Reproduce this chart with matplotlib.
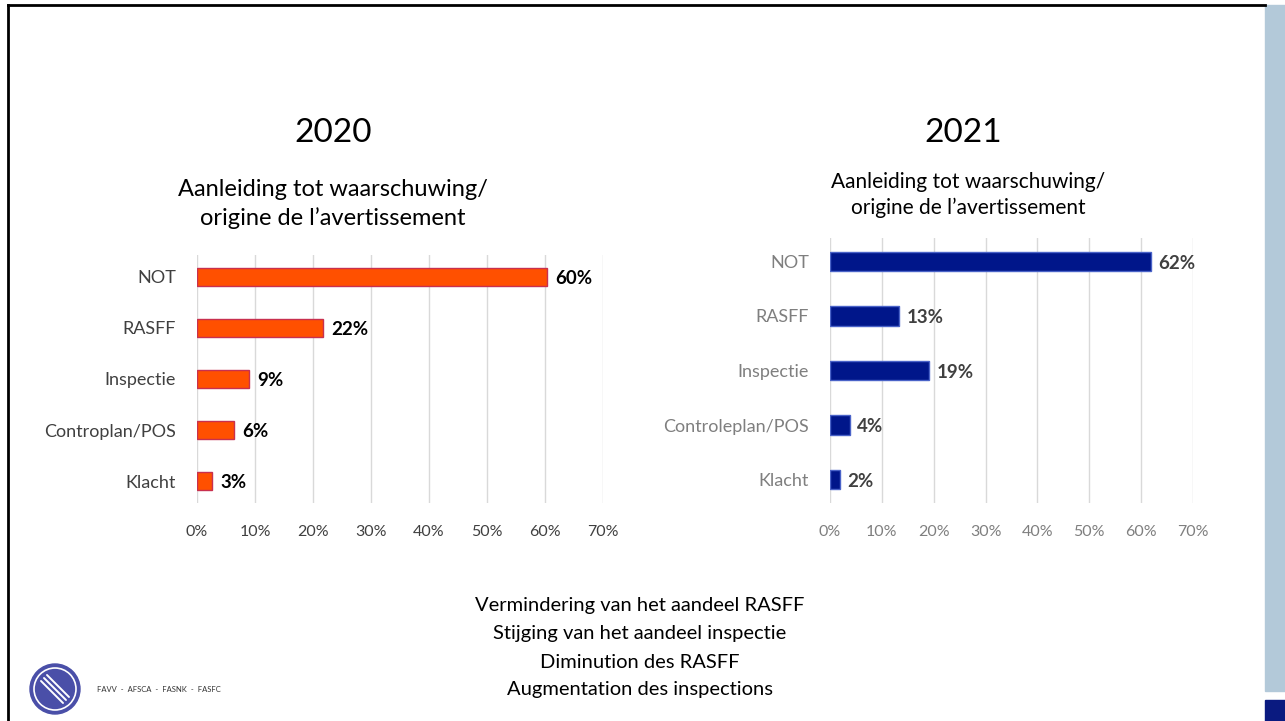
import matplotlib
matplotlib.use("Agg")
import matplotlib.pyplot as plt
from matplotlib.patches import Rectangle, Circle
from matplotlib.ticker import MultipleLocator, PercentFormatter

plt.rcParams['font.family'] = ['Lato', 'DejaVu Sans']

# --- data ---
categories_2020 = ["NOT", "RASFF", "Inspectie", "Controplan/POS", "Klacht"]
categories_2021 = ["NOT", "RASFF", "Inspectie", "Controleplan/POS", "Klacht"]
share_2020 = [60.3, 21.8, 9.0, 6.4, 2.6]
share_2021 = [61.9, 13.4, 19.1, 3.8, 1.9]

subtitle = "Aanleiding tot waarschuwing/\norigine de l\u2019avertissement"
footer = ["Vermindering van het aandeel RASFF",
          "Stijging van het aandeel inspectie",
          "Diminution des RASFF",
          "Augmentation des inspections"]

W, H = 1285, 721
fig = plt.figure(figsize=(W / 100, H / 100), dpi=100)

# background layer in pixel coordinates (frame, side panel, logo, texts)
bg = fig.add_axes([0, 0, 1, 1], zorder=0)
bg.set_xlim(0, W)
bg.set_ylim(H, 0)
bg.axis("off")
bg.plot([8, 1265], [5, 5], color="black", lw=2)
bg.plot([8, 8], [5, H], color="black", lw=2)
bg.add_patch(Rectangle((1265, 5), 20, 686, color="#b3c9d9"))
bg.add_patch(Rectangle((1265, 700), 20, 21, color="#0a1a80"))

# logo
bg.add_patch(Circle((55, 689), 25, color="#4a4fa8"))
bg.add_patch(Circle((55, 689), 21, fill=False, ec="white", lw=1.2))
for dx in (-3, 0, 3):
    bg.plot([44 + dx, 66 + dx], [678 - dx, 700 - dx], color="white", lw=1.4,
            solid_capstyle="round")
bg.text(97, 690, "FAVV  -  AFSCA  -  FASNK  -  FASFC", fontsize=5.5,
        va="center", color="#333333")

# titles
bg.text(333, 133, "2020", fontsize=24, ha="center", va="center", color="black")
bg.text(963, 133, "2021", fontsize=24, ha="center", va="center", color="black")
bg.text(333, 204, subtitle, fontsize=17, ha="center", va="center",
        color="black", linespacing=1.45)
bg.text(968, 195, subtitle, fontsize=15, ha="center", va="center",
        color="black", linespacing=1.4)
for i, line in enumerate(footer):
    bg.text(640, 606 + i * 28, line, fontsize=14.5, ha="center", va="center",
            color="black")


def draw_bars(rect, labels, values, color, edge, label_col, value_col):
    ax = fig.add_axes(rect, zorder=1)
    ax.patch.set_alpha(0)
    pos = list(range(len(labels)))
    ax.barh(pos, values, height=0.36, color=color, edgecolor=edge, lw=1,
            zorder=3)
    for p, v in zip(pos, values):
        ax.text(v + 1.4, p + 0.03, f"{round(v)}%", va="center", ha="left",
                fontsize=13.5, fontweight="bold", color=value_col)
    ax.set_yticks(pos)
    ax.set_yticklabels(labels, fontsize=13, color=label_col)
    ax.set_ylim(len(labels) - 0.57, -0.43)
    ax.set_xlim(0, 70)
    ax.xaxis.set_major_locator(MultipleLocator(10))
    ax.xaxis.set_major_formatter(PercentFormatter(decimals=0))
    ax.tick_params(axis="x", colors=label_col, labelsize=11.5, length=0, pad=16)
    ax.tick_params(axis="y", length=0, pad=15)
    ax.grid(axis="x", color="#d9d9d9", lw=1, zorder=0)
    for s in ax.spines.values():
        s.set_visible(False)
    return ax


draw_bars([197 / W, 1 - 503 / H, (603 - 197) / W, (503 - 255) / H],
          categories_2020, share_2020, "#ff5000", "#c8304f",
          "#404040", "black")
draw_bars([830 / W, 1 - 503 / H, (1193 - 830) / W, (503 - 238) / H],
          categories_2021, share_2021, "#00168a", "#4a63c8",
          "#7f7f7f", "#404040")

fig.savefig("out.png", dpi=100)
